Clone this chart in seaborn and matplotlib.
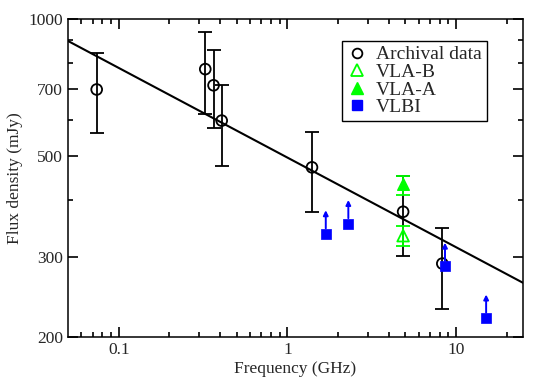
import numpy as np
import pandas as pd
import matplotlib
matplotlib.use("Agg")
import matplotlib.pyplot as plt
import matplotlib.ticker as mticker
import seaborn as sns
from matplotlib.lines import Line2D

# ---- data ----
arch_freq = [0.074, 0.326, 0.365, 0.408, 1.40, 4.86, 8.3]
arch_flux = [700, 776, 715, 598, 472, 377, 290]
arch_lo = [562, 617, 576, 476, 377, 302, 231]
arch_hi = [842, 938, 855, 716, 565, 452, 348]

vlab_freq = [4.86]
vlab_flux = [334]
vlab_lo = [317]
vlab_hi = [350]

vlaa_freq = [4.86]
vlaa_flux = [433]
vlaa_lo = [410]
vlaa_hi = [452]

vlbi_freq = [1.69, 2.30, 8.61, 15.1]
vlbi_flux = [337, 355, 286, 220]

fit_s1 = 496.0      # flux at 1 GHz (mJy)
fit_alpha = -0.197  # spectral index
fit_range = [0.05, 25.0]

xticks = [0.1, 1, 10]
xticklabels = ["0.1", "1", "10"]
xminor = [0.06, 0.07, 0.08, 0.09, 0.2, 0.3, 0.4, 0.5, 0.6, 0.7, 0.8, 0.9,
          2, 3, 4, 5, 6, 7, 8, 9, 20]
yticks = [200, 300, 500, 700, 1000]
yticklabels = ["200", "300", "500", "700", "1000"]
yminor = [400, 600, 800, 900]

# ---- style ----
sns.set_style("ticks")
plt.rcParams["font.family"] = ["Liberation Serif", "DejaVu Serif"]

fig = plt.figure(figsize=(5.5, 3.85), dpi=100)
ax = fig.add_axes([0.1236, 0.1247, 0.8274, 0.8259])
ax.set_xscale("log")
ax.set_yscale("log")

GREEN = "#00ff00"
BLUE = "#0000ff"

# fit line
fx = np.array(fit_range)
fit_df = pd.DataFrame({"f": fx, "s": fit_s1 * fx ** fit_alpha})
sns.lineplot(data=fit_df, x="f", y="s", color="black", lw=1.5, ax=ax, zorder=2)

# error bars
def errs(v, lo, hi):
    v = np.array(v); return [v - np.array(lo), np.array(hi) - v]

ax.errorbar(arch_freq, arch_flux, yerr=errs(arch_flux, arch_lo, arch_hi),
            fmt="none", ecolor="black", elinewidth=1.3, capsize=5, capthick=1.3, zorder=3)
ax.errorbar(vlab_freq, vlab_flux, yerr=errs(vlab_flux, vlab_lo, vlab_hi),
            fmt="none", ecolor=GREEN, elinewidth=1.3, capsize=5, capthick=1.3, zorder=4)
ax.errorbar(vlaa_freq, vlaa_flux, yerr=errs(vlaa_flux, vlaa_lo, vlaa_hi),
            fmt="none", ecolor=GREEN, elinewidth=1.3, capsize=5, capthick=1.3, zorder=4)

# markers
sns.scatterplot(x=arch_freq, y=arch_flux, marker="o", s=60, facecolor="none",
                edgecolor="black", linewidth=1.3, ax=ax, zorder=5)
sns.scatterplot(x=vlab_freq, y=vlab_flux, marker="^", s=70, facecolor="none",
                edgecolor=GREEN, linewidth=1.3, ax=ax, zorder=5)
sns.scatterplot(x=vlaa_freq, y=vlaa_flux, marker="^", s=70, color=GREEN,
                edgecolor=GREEN, linewidth=1, ax=ax, zorder=5)
sns.scatterplot(x=vlbi_freq, y=vlbi_flux, marker="s", s=45, color=BLUE,
                edgecolor=BLUE, linewidth=0.5, ax=ax, zorder=5)

# lower-limit arrows
for f, s in zip(vlbi_freq, vlbi_flux):
    ax.annotate("", xy=(f, s * 10 ** 0.052), xytext=(f, s * 10 ** 0.012),
                arrowprops=dict(arrowstyle="-|>", color=BLUE, lw=1.4,
                                mutation_scale=7, shrinkA=0, shrinkB=0), zorder=6)

ax.set_xlim(0.05, 25)
ax.set_ylim(200, 1000)
ax.xaxis.set_major_locator(mticker.FixedLocator(xticks))
ax.xaxis.set_major_formatter(mticker.FixedFormatter(xticklabels))
ax.xaxis.set_minor_locator(mticker.FixedLocator(xminor))
ax.xaxis.set_minor_formatter(mticker.NullFormatter())
ax.yaxis.set_major_locator(mticker.FixedLocator(yticks))
ax.yaxis.set_major_formatter(mticker.FixedFormatter(yticklabels))
ax.yaxis.set_minor_locator(mticker.FixedLocator(yminor))
ax.yaxis.set_minor_formatter(mticker.NullFormatter())
ax.tick_params(which="both", direction="in", top=True, bottom=True, left=True, right=True,
               labelsize=12.5, width=1.2, color="black")
ax.tick_params(which="major", length=7)
ax.tick_params(which="minor", length=3.5)
for sp in ax.spines.values():
    sp.set_linewidth(1.1)
    sp.set_color("black")

ax.set_xlabel("Frequency (GHz)", fontsize=12.5, labelpad=2)
ax.set_ylabel("Flux density (mJy)", fontsize=12.5, labelpad=4)

handles = [
    Line2D([], [], ls="none", marker="o", ms=7, mfc="none", mec="black", mew=1.3),
    Line2D([], [], ls="none", marker="^", ms=8, mfc="none", mec=GREEN, mew=1.3),
    Line2D([], [], ls="none", marker="^", ms=8, mfc=GREEN, mec=GREEN),
    Line2D([], [], ls="none", marker="s", ms=7, mfc=BLUE, mec=BLUE),
]
labels = ["Archival data", "VLA-B", "VLA-A", "VLBI"]
leg = ax.legend(handles, labels, loc="upper left", bbox_to_anchor=(0.602, 0.931),
                fontsize=14, frameon=True, fancybox=False, framealpha=1,
                edgecolor="black", borderpad=0.25, labelspacing=0.0,
                handlelength=1.0, handletextpad=0.5, borderaxespad=0)
leg.get_frame().set_linewidth(1.0)

fig.savefig("out.png", dpi=100)
